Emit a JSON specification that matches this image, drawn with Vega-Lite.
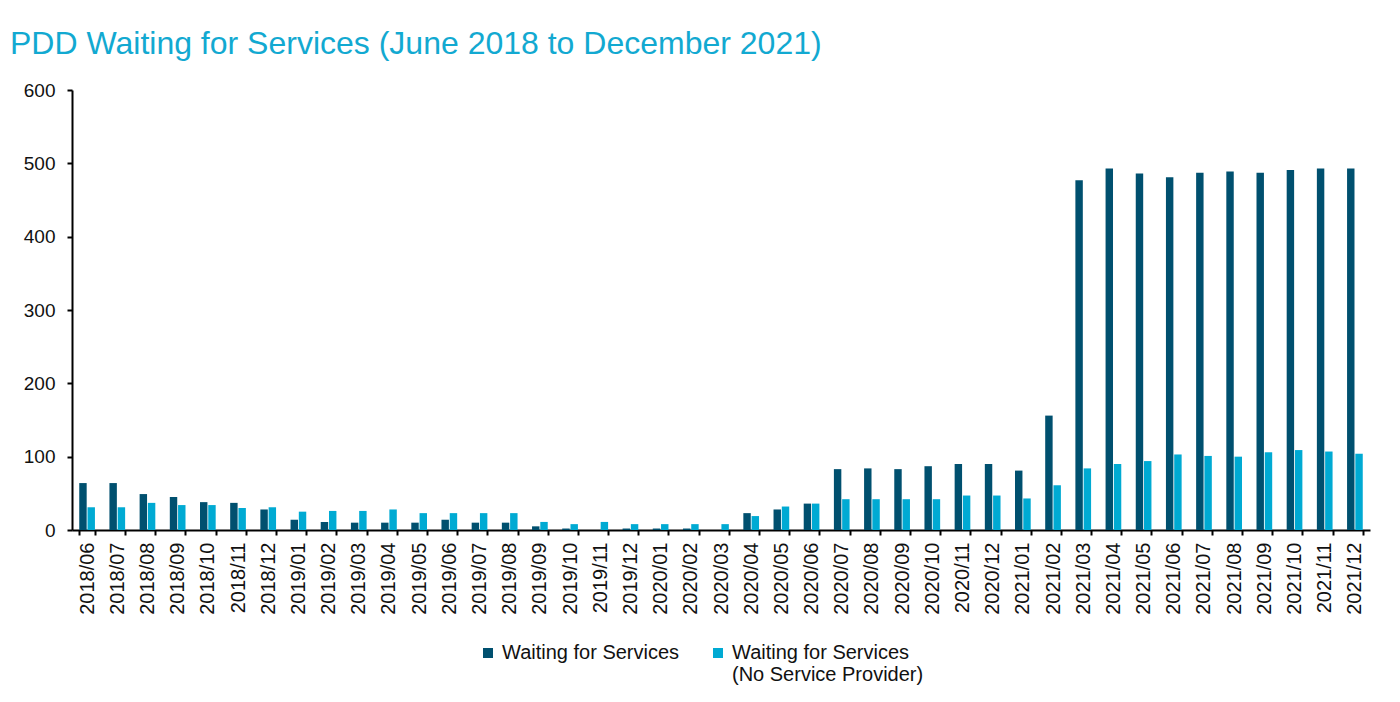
{
  "$schema": "https://vega.github.io/schema/vega-lite/v6.json",
  "autosize": {"type": "none"},
  "width": 1298,
  "height": 440,
  "padding": {"left": 72, "top": 90, "right": 30, "bottom": 172},
  "background": "white",
  "title": {
    "text": "PDD Waiting for Services (June 2018 to December 2021)",
    "anchor": "start",
    "frame": "group",
    "dx": -62,
    "offset": 20,
    "font": "Liberation Sans",
    "fontSize": 32,
    "fontWeight": "normal",
    "color": "#12A9D1"
  },
  "data": {
    "values": [
      {"month": "2018/06", "a": 64, "b": 31},
      {"month": "2018/07", "a": 64, "b": 31},
      {"month": "2018/08", "a": 49, "b": 37},
      {"month": "2018/09", "a": 45, "b": 34},
      {"month": "2018/10", "a": 38, "b": 34},
      {"month": "2018/11", "a": 37, "b": 30},
      {"month": "2018/12", "a": 28, "b": 31},
      {"month": "2019/01", "a": 14, "b": 25},
      {"month": "2019/02", "a": 11, "b": 26},
      {"month": "2019/03", "a": 10, "b": 26},
      {"month": "2019/04", "a": 10, "b": 28},
      {"month": "2019/05", "a": 10, "b": 23},
      {"month": "2019/06", "a": 14, "b": 23},
      {"month": "2019/07", "a": 10, "b": 23},
      {"month": "2019/08", "a": 10, "b": 23},
      {"month": "2019/09", "a": 5, "b": 11},
      {"month": "2019/10", "a": 2, "b": 8},
      {"month": "2019/11", "a": 0, "b": 11},
      {"month": "2019/12", "a": 2, "b": 8},
      {"month": "2020/01", "a": 2, "b": 8},
      {"month": "2020/02", "a": 2, "b": 8},
      {"month": "2020/03", "a": 0, "b": 8},
      {"month": "2020/04", "a": 23, "b": 19},
      {"month": "2020/05", "a": 28, "b": 32},
      {"month": "2020/06", "a": 36, "b": 36},
      {"month": "2020/07", "a": 83, "b": 42},
      {"month": "2020/08", "a": 84, "b": 42},
      {"month": "2020/09", "a": 83, "b": 42},
      {"month": "2020/10", "a": 87, "b": 42},
      {"month": "2020/11", "a": 90, "b": 47},
      {"month": "2020/12", "a": 90, "b": 47},
      {"month": "2021/01", "a": 81, "b": 43},
      {"month": "2021/02", "a": 156, "b": 61},
      {"month": "2021/03", "a": 477, "b": 84},
      {"month": "2021/04", "a": 493, "b": 90},
      {"month": "2021/05", "a": 486, "b": 94},
      {"month": "2021/06", "a": 481, "b": 103},
      {"month": "2021/07", "a": 487, "b": 101},
      {"month": "2021/08", "a": 489, "b": 100},
      {"month": "2021/09", "a": 487, "b": 106},
      {"month": "2021/10", "a": 491, "b": 109},
      {"month": "2021/11", "a": 493, "b": 107},
      {"month": "2021/12", "a": 493, "b": 104}
    ]
  },
  "transform": [
    {"fold": ["a", "b"], "as": ["key", "value"]},
    {"lookup": "key", "from": {"data": {"values": [
      {"key": "a", "series": "Waiting for Services"},
      {"key": "b", "series": "Waiting for Services (No Service Provider)"}
    ]}, "key": "key", "fields": ["series"]}}
  ],
  "mark": {"type": "bar"},
  "encoding": {
    "x": {
      "field": "month",
      "type": "nominal",
      "sort": null,
      "scale": {"paddingInner": 0.48, "paddingOuter": 0.24},
      "axis": {
        "title": null,
        "labelAngle": -90,
        "labelFont": "Liberation Sans",
        "labelFontSize": 20,
        "labelColor": "#111111",
        "labelPadding": 7,
        "tickBand": "extent",
        "tickSize": 5,
        "tickWidth": 2,
        "tickColor": "#000000",
        "domainColor": "#000000",
        "domainWidth": 2
      }
    },
    "xOffset": {"field": "series", "type": "nominal", "scale": {"paddingInner": 0.1}},
    "y": {
      "field": "value",
      "type": "quantitative",
      "scale": {"domain": [0, 600]},
      "axis": {
        "title": null,
        "values": [0, 100, 200, 300, 400, 500, 600],
        "grid": false,
        "labelFont": "Liberation Sans",
        "labelFontSize": 19,
        "labelColor": "#111111",
        "labelPadding": 12,
        "tickSize": 5,
        "tickWidth": 2,
        "tickColor": "#000000",
        "domainColor": "#000000",
        "domainWidth": 2
      }
    },
    "color": {
      "field": "series",
      "type": "nominal",
      "scale": {
        "domain": ["Waiting for Services", "Waiting for Services (No Service Provider)"],
        "range": ["#00506F", "#00AAD3"]
      },
      "legend": {
        "title": null,
        "orient": "none",
        "legendX": 406,
        "legendY": 553,
        "direction": "horizontal",
        "labelFont": "Liberation Sans",
        "labelFontSize": 20,
        "labelColor": "#111111",
        "labelLimit": 400,
        "symbolType": "square",
        "symbolSize": 100,
        "symbolStrokeWidth": 0,
        "columnPadding": 28,
        "labelExpr": "datum.label == 'Waiting for Services' ? ['Waiting for Services', ''] : ['Waiting for Services', '(No Service Provider)']"
      }
    }
  },
  "config": {
    "view": {"stroke": null},
    "font": "Liberation Sans"
  }
}
